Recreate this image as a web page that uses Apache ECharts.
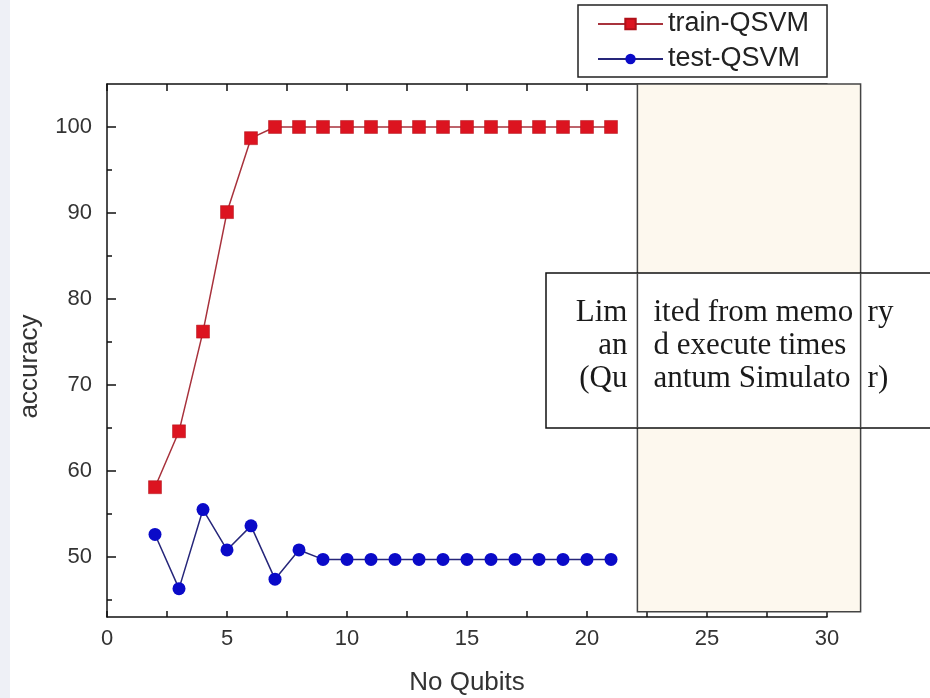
<!DOCTYPE html>
<html>
<head>
<meta charset="utf-8">
<script src="https://cdn.jsdelivr.net/npm/echarts@6/dist/echarts.min.js"></script>
<style>
  html, body { margin: 0; padding: 0; background: #fff; }
  #main { width: 930px; height: 698px; }
</style>
</head>
<body>
<div id="main"></div>
<script>
// data
const qubits = [2, 3, 4, 5, 6, 7, 8, 9, 10, 11, 12, 13, 14, 15, 16, 17, 18, 19, 20, 21];
const trainAcc = [58.1, 64.6, 76.2, 90.1, 98.7, 100, 100, 100, 100, 100, 100, 100, 100, 100, 100, 100, 100, 100, 100, 100];
const testAcc = [52.6, 46.3, 55.5, 50.8, 53.6, 47.4, 50.8, 49.7, 49.7, 49.7, 49.7, 49.7, 49.7, 49.7, 49.7, 49.7, 49.7, 49.7, 49.7, 49.7];
const yLabels = [50, 60, 70, 80, 90, 100];
const yMinor = [45, 50, 55, 60, 65, 70, 75, 80, 85, 90, 95, 100];
// shaded region (x from, x to, y from, y to) in data units
const limitX = [22.1, 31.4];
const limitY = [43.6, 105];
const noteLines = [
  ['Lim', 'ited from memo', 'ry'],
  ['an', 'd execute times', ''],
  ['(Qu', 'antum Simulato', 'r)']
];

const myChart = echarts.init(document.getElementById('main'));

const axisLine = { show: true, onZero: false, lineStyle: { color: '#111', width: 1.5 } };

const option = {
  backgroundColor: '#fff',
  animation: false,
  grid: { left: 107, right: 103, top: 84, bottom: 81, containLabel: false, outerBoundsMode: 'none' },
  legend: {
    orient: 'vertical',
    left: 578,
    top: 5,
    padding: [4, 18, 3, 19],
    itemGap: 5,
    itemWidth: 65,
    itemHeight: 13,
    borderColor: '#222',
    borderWidth: 1.5,
    backgroundColor: '#fff',
    textStyle: { fontFamily: 'Liberation Sans, Arial', fontSize: 27, color: '#222', lineHeight: 30 },
    data: ['train-QSVM', 'test-QSVM']
  },
  xAxis: [
    {
      type: 'value',
      min: 0, max: 30, interval: 2.5,
      name: 'No Qubits',
      nameLocation: 'middle',
      nameGap: 53,
      nameTextStyle: { fontFamily: 'Liberation Sans, Arial', fontSize: 26, color: '#333' },
      axisLine: axisLine,
      axisTick: { inside: true, length: 6, lineStyle: { color: '#111', width: 1.5 } },
      axisLabel: {
        margin: 11,
        fontFamily: 'Liberation Sans, Arial', fontSize: 22, color: '#333',
        formatter: v => (v % 5 === 0 ? String(v) : '')
      },
      splitLine: { show: false }
    },
    {
      type: 'value',
      position: 'top',
      min: 0, max: 30, interval: 2.5,
      axisLine: axisLine,
      axisTick: { inside: true, length: 7, lineStyle: { color: '#111', width: 1.5 } },
      axisLabel: { show: false },
      splitLine: { show: false }
    }
  ],
  yAxis: [
    {
      type: 'value',
      min: 43, max: 105,
      name: 'accuracy',
      nameLocation: 'middle',
      nameGap: 64,
      nameTextStyle: { fontFamily: 'Liberation Sans, Arial', fontSize: 26, color: '#333', padding: [0, 32, 0, 0] },
      axisLine: axisLine,
      axisTick: { inside: true, length: 5, customValues: yMinor, lineStyle: { color: '#111', width: 1.5 } },
      axisLabel: { margin: 15, customValues: yLabels, fontFamily: 'Liberation Sans, Arial', fontSize: 22, color: '#333' },
      splitLine: { show: false }
    },
    {
      type: 'value',
      min: 43, max: 105,
      position: 'left',
      axisLine: { show: false },
      axisTick: { inside: true, length: 9, customValues: yLabels, lineStyle: { color: '#111', width: 1.5 } },
      axisLabel: { show: false },
      splitLine: { show: false }
    }
  ],
  series: [
    {
      name: 'train-QSVM',
      type: 'line',
      data: qubits.map((q, i) => [q, trainAcc[i]]),
      symbol: 'rect',
      symbolSize: 13,
      itemStyle: { color: '#dc1420', borderColor: '#b01018', borderWidth: 0.5 },
      lineStyle: { color: '#a8323c', width: 1.5 },
      z: 3
    },
    {
      name: 'test-QSVM',
      type: 'line',
      data: qubits.map((q, i) => [q, testAcc[i]]),
      symbol: 'circle',
      symbolSize: 13,
      itemStyle: { color: '#0a0ac8' },
      lineStyle: { color: '#26267a', width: 1.5 },
      z: 3
    }
  ]
};

myChart.setOption(option);

// annotation: shaded area + note box, placed from data coordinates
const p0 = myChart.convertToPixel({ xAxisIndex: 0, yAxisIndex: 0 }, [limitX[0], limitY[1]]);
const p1 = myChart.convertToPixel({ xAxisIndex: 0, yAxisIndex: 0 }, [limitX[1], limitY[0]]);
const boxTop = 273, boxBottom = 428, boxLeft = 546;
const lineY = [313, 346, 379];
const font = '31px "Liberation Serif", "Times New Roman", serif';

const graphics = [
  // thin light strip on the left edge
  { type: 'rect', left: 0, top: 0, shape: { width: 10, height: 698 }, style: { fill: '#eef0f6' }, z: 0 },
  {
    type: 'rect', z: 10,
    shape: { x: p0[0], y: p0[1], width: p1[0] - p0[0], height: p1[1] - p0[1] },
    style: { fill: '#fdf8ee', stroke: '#444', lineWidth: 1.5 }
  },
  {
    type: 'rect', z: 11,
    shape: { x: boxLeft, y: boxTop, width: 400, height: boxBottom - boxTop },
    style: { fill: '#fff', stroke: '#111', lineWidth: 1.5 }
  },
  {
    type: 'line', z: 13,
    shape: { x1: p0[0], y1: boxTop, x2: p0[0], y2: boxBottom },
    style: { stroke: '#444', lineWidth: 1.5 }
  },
  {
    type: 'line', z: 13,
    shape: { x1: p1[0], y1: boxTop, x2: p1[0], y2: boxBottom },
    style: { stroke: '#444', lineWidth: 1.5 }
  }
];
noteLines.forEach((parts, i) => {
  graphics.push({ type: 'text', z: 12, x: p0[0] - 10, y: lineY[i],
    style: { text: parts[0], font: font, fill: '#1a1a1a', align: 'right', verticalAlign: 'middle' } });
  graphics.push({ type: 'text', z: 12, x: p0[0] + 16, y: lineY[i],
    style: { text: parts[1], font: font, fill: '#1a1a1a', align: 'left', verticalAlign: 'middle' } });
  if (parts[2]) {
    graphics.push({ type: 'text', z: 12, x: p1[0] + 7, y: lineY[i],
      style: { text: parts[2], font: font, fill: '#1a1a1a', align: 'left', verticalAlign: 'middle' } });
  }
});
myChart.setOption({ graphic: graphics });
</script>
</body>
</html>
